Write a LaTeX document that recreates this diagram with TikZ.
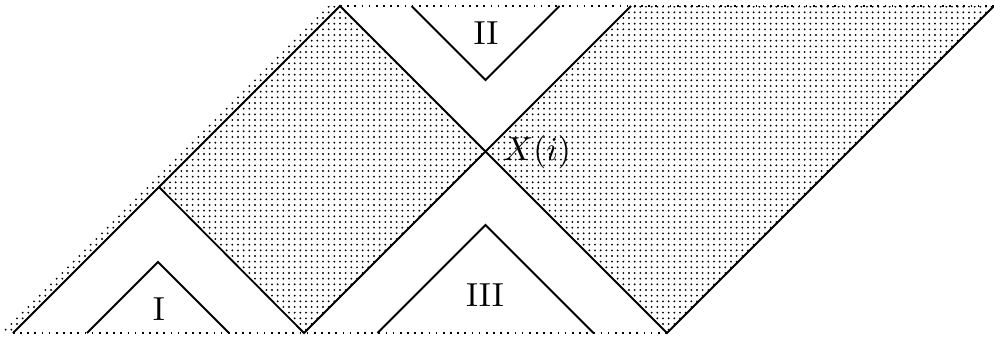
\documentclass[tikz,border=0pt]{standalone}
\usetikzlibrary{patterns}
\pgfdeclarepatternformonly{finedots}{\pgfpoint{-0.5pt}{-0.5pt}}{\pgfpoint{0.5pt}{0.5pt}}{\pgfpoint{1.7pt}{1.7pt}}%
  {\pgfpathcircle{\pgfpointorigin}{0.32pt}\pgfusepath{fill}}

\begin{document}
\begin{tikzpicture}[x=0.3pt,y=-0.3pt,
  wall/.style={line width=0.55pt,line join=miter},
  shaded/.style={pattern=finedots,pattern color=black},
  rim/.style={line width=0.5pt,dash pattern=on 0.5pt off 1.65pt},
  region/.style={inner sep=0pt}]
\useasboundingbox (0,0) rectangle (994,341);
% corners of the strips
\coordinate (bl) at (13,333);
\coordinate (a) at (340,6);
\coordinate (k) at (159,187);
\coordinate (v1) at (304,333);
\coordinate (x) at (485.5,151.5);
\coordinate (v2) at (667,333);
\coordinate (t1) at (631,6);
\coordinate (tr) at (994,6);
\coordinate (sl) at (-2,333);
\coordinate (st) at (326,6);
% the three triangles
\coordinate (i1) at (87,333); \coordinate (i2) at (158,262); \coordinate (i3) at (229,333);
\coordinate (ii1) at (411.5,6); \coordinate (ii2) at (485.5,80); \coordinate (ii3) at (559.5,6);
\coordinate (iii1) at (377.5,333); \coordinate (iii2) at (485.5,225); \coordinate (iii3) at (593.5,333);
% dotted parts
\fill[shaded] (sl) -- (bl) -- (a) -- (st) -- cycle;
\fill[shaded] (k) -- (a) -- (x) -- (v1) -- cycle;
\fill[shaded] (x) -- (t1) -- (tr) -- (v2) -- cycle;
\draw[rim] (bl) -- (v2);
\draw[rim] (a) -- (tr);
\draw[wall] (bl) -- (a) -- (x) -- (v2) -- (tr);
\draw[wall] (k) -- (v1) -- (x) -- (t1);
\draw[wall] (i1) -- (i2) -- (i3);
\draw[wall] (ii1) -- (ii2) -- (ii3);
\draw[wall] (iii1) -- (iii2) -- (iii3);
\node[region] (rI) at (159,309) {I};
\node[region] (rII) at (486,33) {II};
\node[region] (rIII) at (485,295) {III};
\node[region] (lx) at (537,152) {$X(i)$};
\end{tikzpicture}
\end{document}
